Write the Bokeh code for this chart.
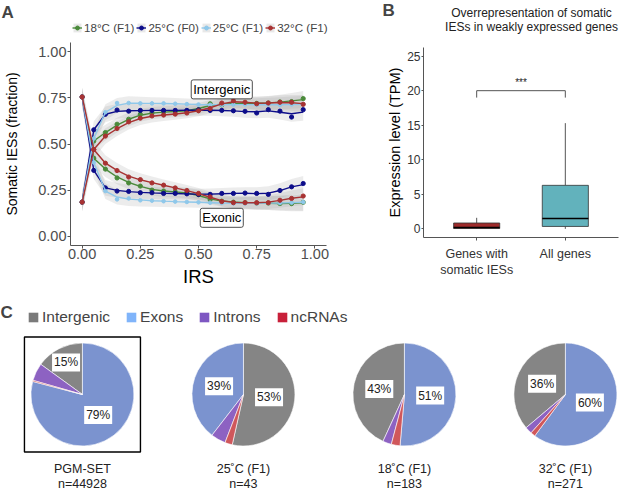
import numpy as np
from bokeh.plotting import figure
from bokeh.layouts import column, row
from bokeh.models import (Legend, LegendItem, Label, FixedTicker, Range1d,
                          NumeralTickFormatter, ColumnDataSource)
from bokeh.embed import file_html
from bokeh.resources import INLINE
from bokeh.core.properties import value

FONT = "Liberation Sans"

# ---------------- Panel A data ----------------
irs = [0.00, 0.05, 0.10, 0.15, 0.20, 0.25, 0.30, 0.35, 0.40, 0.45,
       0.50, 0.55, 0.60, 0.65, 0.70, 0.75, 0.80, 0.85, 0.90, 0.95]
series_names = ["18°C (F1)", "25°C (F0)", "25°C (F1)", "32°C (F1)"]
series_colors = ["#4A8A3A", "#0D0D8A", "#8FC8EA", "#A83232"]

intergenic_18F1 = [0.185, 0.516, 0.562, 0.607, 0.634, 0.661, 0.668, 0.673, 0.676, 0.680,
                   0.686, 0.718, 0.712, 0.720, 0.722, 0.720, 0.722, 0.728, 0.730, 0.746]
intergenic_25F0 = [0.185, 0.577, 0.661, 0.684, 0.678, 0.682, 0.682, 0.682, 0.682, 0.682,
                   0.685, 0.682, 0.682, 0.680, 0.677, 0.668, 0.686, 0.678, 0.646, 0.686]
intergenic_25F1 = [0.185, 0.530, 0.672, 0.722, 0.722, 0.720, 0.720, 0.720, 0.718, 0.716,
                   0.714, 0.712, 0.712, 0.714, 0.714, 0.712, 0.714, 0.712, 0.714, 0.716]
intergenic_32F1 = [0.185, 0.470, 0.543, 0.584, 0.620, 0.640, 0.652, 0.657, 0.662, 0.668,
                   0.680, 0.692, 0.722, 0.734, 0.726, 0.718, 0.722, 0.726, 0.726, 0.715]

exonic_18F1 = [0.755, 0.423, 0.364, 0.316, 0.289, 0.272, 0.250, 0.245, 0.241, 0.236,
               0.225, 0.198, 0.190, 0.185, 0.182, 0.180, 0.180, 0.177, 0.177, 0.184]
exonic_25F0 = [0.755, 0.357, 0.262, 0.245, 0.243, 0.236, 0.236, 0.232, 0.232, 0.230,
               0.227, 0.227, 0.232, 0.232, 0.234, 0.232, 0.227, 0.248, 0.268, 0.286]
exonic_25F1 = [0.755, 0.400, 0.245, 0.200, 0.205, 0.195, 0.193, 0.190, 0.188, 0.186,
               0.184, 0.182, 0.180, 0.178, 0.178, 0.178, 0.180, 0.180, 0.182, 0.185]
exonic_32F1 = [0.755, 0.470, 0.396, 0.356, 0.321, 0.307, 0.289, 0.277, 0.262, 0.248,
               0.232, 0.213, 0.188, 0.182, 0.182, 0.182, 0.182, 0.195, 0.205, 0.218]

intergenic_series = [intergenic_18F1, intergenic_25F0, intergenic_25F1, intergenic_32F1]
exonic_series = [exonic_18F1, exonic_25F0, exonic_25F1, exonic_32F1]

# ---------------- Panel B data ----------------
box_groups = ["Genes with\nsomatic IESs", "All genes"]
box_lower = [0.0, 0.0]
box_q1 = [0.05, 0.35]
box_median = [0.2, 1.5]
box_q3 = [0.85, 6.3]
box_upper = [1.6, 15.3]
box_colors = ["#9E2B2B", "#62B2BC"]
sig_level = 20
sig_text = "***"
title_B = ["Overrepresentation of somatic", "IESs in weakly expressed genes"]

# ---------------- Panel C data ----------------
pie_names = ["PGM-SET", "25˚C (F1)", "18˚C (F1)", "32˚C (F1)"]
region_names = ["Intergenic", "Exons", "Introns", "ncRNAs"]
intergenic_n = [6750, 23, 79, 98]
exons_n = [35530, 17, 94, 163]
introns_n = [2490, 2, 5, 6]
ncrnas_n = [158, 1, 5, 4]
slice_order = [["Exons", "ncRNAs", "Introns", "Intergenic"],
               ["Intergenic", "ncRNAs", "Introns", "Exons"],
               ["Exons", "ncRNAs", "Introns", "Intergenic"],
               ["Exons", "ncRNAs", "Introns", "Intergenic"]]
pie_colors = ["#858585", "#7B93CF", "#8D62C2", "#D0575B"]
legend_colors = ["#7A7A7A", "#80B4FA", "#7E57C2", "#C8203A"]
labelled_regions = ["Intergenic", "Exons"]


def style_axis(ax, tick_size, label_size, tick_color):
    ax.axis_line_color = "#555555"
    ax.axis_line_width = 1
    ax.major_tick_line_color = "#555555"
    ax.minor_tick_line_color = None
    ax.major_tick_out = 3
    ax.major_tick_in = 0
    ax.major_label_text_font = FONT
    ax.major_label_text_font_size = tick_size
    ax.major_label_text_color = tick_color
    ax.axis_label_text_font = FONT
    ax.axis_label_text_font_size = label_size
    ax.axis_label_text_font_style = "normal"
    ax.axis_label_text_color = "black"


def smooth(v):
    v = np.asarray(v, float)
    out = v.copy()
    out[3:-1] = 0.25 * v[2:-2] + 0.5 * v[3:-1] + 0.25 * v[4:]
    out[-1] = (2 * v[-1] + v[-2]) / 3
    return out


TOTAL_W = 620
STRIP_H = 36
x = np.array(irs)
hw = 0.03 + 0.02 * ((x - 0.5) / 0.5) ** 2

# ================= Top strip: panel letters A/B, legend of A, title of B =================
top = figure(width=TOTAL_W, height=STRIP_H, x_range=Range1d(0, 1), y_range=Range1d(0, 1),
             output_backend="svg", toolbar_location=None, min_border=0,
             x_axis_location=None, y_axis_location=None)
top.grid.visible = False
top.outline_line_color = None
items = []
for i, inter in enumerate(intergenic_series):
    col = series_colors[i]
    s = smooth(inter)
    rb = top.varea(x=x, y1=s - hw, y2=s + hw, fill_color="#BDBDBD", fill_alpha=0.35, visible=False)
    rl = top.line(x, s, line_color=col, line_width=1.4, visible=False)
    rp = top.scatter(x, inter, size=4.2, color=col, visible=False)
    items.append(LegendItem(label=series_names[i], renderers=[rb, rl, rp]))
legA = Legend(items=items, orientation="horizontal", location=(72, 1),
              label_text_font=FONT, label_text_font_size="11.6px", glyph_width=10, glyph_height=11,
              label_standoff=2, spacing=2, padding=0, margin=0, border_line_color=None,
              background_fill_alpha=0, label_height=16)
top.add_layout(legA, "center")
top.add_layout(Label(x=1, y=STRIP_H - 2, x_units="screen", y_units="screen", text="A",
                     text_font=FONT, text_font_size="17px", text_font_style="bold",
                     text_baseline="top", text_align="left"))
top.add_layout(Label(x=382, y=STRIP_H, x_units="screen", y_units="screen", text="B",
                     text_font=FONT, text_font_size="17px", text_font_style="bold",
                     text_baseline="top", text_align="left"))
for txt, fy in zip(title_B, (12.3, 26.5)):
    top.add_layout(Label(x=531, y=STRIP_H - fy, x_units="screen", y_units="screen",
                         text=txt, text_font=FONT, text_font_size="12px",
                         text_baseline="middle", text_align="center", text_color="#222222"))

# ================= Panel A =================
A_W, A_H = 344, 264
A_L, A_R, A_T, A_B = 70, 18, 6, 55
pA = figure(width=A_W, height=A_H, x_range=Range1d(-0.05, 1.05), y_range=Range1d(-0.05, 1.05),
            output_backend="svg", toolbar_location=None,
            min_border_left=A_L, min_border_right=A_R, min_border_top=A_T, min_border_bottom=A_B)
pA.outline_line_color = None
pA.grid.visible = False

for inter, exo in zip(intergenic_series, exonic_series):
    for vals in (inter, exo):
        s = smooth(vals)
        pA.varea(x=x, y1=s - hw, y2=s + hw, fill_color="#A8A8A8", fill_alpha=0.22)
for i, (inter, exo) in enumerate(zip(intergenic_series, exonic_series)):
    col = series_colors[i]
    for vals in (inter, exo):
        pA.line(x, smooth(vals), line_color=col, line_width=1.4)
        pA.scatter(x, vals, size=4.2 if i != 2 else 3.6, color=col)

for ax in (pA.xaxis[0], pA.yaxis[0]):
    style_axis(ax, "14.5px", "14px", "#4D4D4D")
pA.xaxis.ticker = FixedTicker(ticks=[0, 0.25, 0.5, 0.75, 1.0])
pA.yaxis.ticker = FixedTicker(ticks=[0, 0.25, 0.5, 0.75, 1.0])
pA.xaxis.formatter = NumeralTickFormatter(format="0.00")
pA.yaxis.formatter = NumeralTickFormatter(format="0.00")
pA.xaxis.axis_label = "IRS"
pA.xaxis.axis_label_text_font_size = "18.5px"
pA.yaxis.axis_label = "Somatic IESs (fraction)"
pA.xaxis.major_label_standoff = 0
pA.yaxis.major_label_standoff = 1
pA.xaxis.axis_label_standoff = 4
pA.yaxis.axis_label_standoff = 15

for txt, yy in (("Intergenic", 0.796), ("Exonic", 0.10)):
    pA.add_layout(Label(x=0.6, y=yy, text=txt, text_align="center", text_baseline="middle",
                        text_font=FONT, text_font_size="13px", text_color="black",
                        background_fill_color="white", border_line_color="#222222",
                        border_line_width=0.8, padding=2, border_radius=2))

# ================= Panel B =================
B_W, B_H = TOTAL_W - A_W, 264
B_L, B_R, B_T, B_B = 79, 2, 11, 63
pB = figure(width=B_W, height=B_H, x_range=Range1d(0.4, 2.6), y_range=Range1d(-1.25, 26.25),
            output_backend="svg", toolbar_location=None,
            min_border_left=B_L, min_border_right=B_R, min_border_top=B_T, min_border_bottom=B_B)
pB.outline_line_color = None
pB.grid.visible = False
xs = np.arange(1, len(box_groups) + 1)
bw = 0.52
pB.segment(x0=xs, y0=box_q3, x1=xs, y1=box_upper, line_color="#555555", line_width=1)
pB.segment(x0=xs, y0=box_q1, x1=xs, y1=box_lower, line_color="#555555", line_width=1)
pB.vbar(x=xs, width=bw, bottom=box_q1, top=box_q3, fill_color=box_colors,
        line_color="#333333", line_width=0.8)
pB.segment(x0=xs - bw / 2, y0=box_median, x1=xs + bw / 2, y1=box_median,
           line_color="black", line_width=1.4)
pB.segment(x0=[xs[0], xs[0], xs[1]], y0=[sig_level] * 3, x1=[xs[1], xs[0], xs[1]],
           y1=[sig_level, sig_level - 1, sig_level - 1], line_color="#555555", line_width=1)
pB.text(x=[xs.mean()], y=[sig_level + 0.4], text=[sig_text], text_align="center",
        text_baseline="bottom", text_font=value(FONT), text_font_size="10px", text_color="#222222")

for ax in (pB.xaxis[0], pB.yaxis[0]):
    style_axis(ax, "12px", "14.5px", "#333333")
pB.xaxis.major_label_text_font_size = "12.5px"
pB.yaxis.ticker = FixedTicker(ticks=[0, 5, 10, 15, 20, 25])
pB.xaxis.ticker = FixedTicker(ticks=list(xs))
pB.xaxis.major_label_overrides = {int(k): g for k, g in zip(xs, box_groups)}
pB.yaxis.major_tick_out = 2
pB.yaxis.major_label_standoff = 1
pB.xaxis.major_label_standoff = 6
pB.yaxis.axis_label = "Expression level (TPM)"
pB.yaxis.axis_label_standoff = 1

# ================= Panel C =================
C_W, C_H = TOTAL_W, 191
pC = figure(width=C_W, height=C_H, x_range=Range1d(-0.509, 3.342), y_range=Range1d(-97, 94),
            output_backend="svg", toolbar_location=None, min_border=0,
            x_axis_location=None, y_axis_location=None)
pC.grid.visible = False
pC.outline_line_color = None

R = 51.5
counts = {"Intergenic": intergenic_n, "Exons": exons_n, "Introns": introns_n, "ncRNAs": ncrnas_n}
px = np.arange(len(pie_names))
wedge_data = {r: dict(x=[], start=[], end=[]) for r in region_names}
lab = dict(x=[], xo=[], yo=[], text=[])
for k in range(len(pie_names)):
    total = sum(counts[r][k] for r in region_names)
    cum = 0.0
    for r in slice_order[k]:
        f = counts[r][k] / total
        a0 = np.pi / 2 - 2 * np.pi * cum
        a1 = np.pi / 2 - 2 * np.pi * (cum + f)
        wedge_data[r]["x"].append(px[k])
        wedge_data[r]["start"].append(a0)
        wedge_data[r]["end"].append(a1)
        if r in labelled_regions:
            mid = (a0 + a1) / 2
            rf = 0.5 if f >= 0.3 else 0.7
            lab["x"].append(px[k])
            lab["xo"].append(R * rf * np.cos(mid))
            lab["yo"].append(-R * rf * np.sin(mid))
            lab["text"].append(f"{int(100 * f)}%")
        cum += f

leg_items = []
for r, c, lc in zip(region_names, pie_colors, legend_colors):
    d = wedge_data[r]
    pC.wedge(x=d["x"], y=0, radius=R, radius_units="screen", start_angle=d["start"],
             end_angle=d["end"], direction="clock", fill_color=c, line_color="white", line_width=0.6)
    rl = pC.wedge(x=d["x"], y=0, radius=R, radius_units="screen", start_angle=d["start"],
                  end_angle=d["end"], direction="clock", fill_color=lc, line_color=None,
                  visible=False)
    leg_items.append(LegendItem(label=r, renderers=[rl]))

src = ColumnDataSource(lab)
pC.text(x="x", y=0, x_offset="xo", y_offset="yo", text="text", source=src,
        text_align="center", text_baseline="middle", text_font=value(FONT),
        text_font_size="12px", text_color="#222222", background_fill_color="white",
        padding=2)

pC.rect(x=[px[0]], y=[0], width=116, height=115, width_units="screen", height_units="screen",
        fill_color=None, line_color="black", line_width=1.4)

captions = [f"{n}\nn={sum(counts[r][k] for r in region_names)}" for k, n in enumerate(pie_names)]
pC.text(x=px, y=0, y_offset=67, text=captions, text_align="center", text_baseline="top",
        text_font=value(FONT), text_font_size="12.5px", text_color="#222222", text_line_height=1.1)

legC = Legend(items=leg_items, orientation="horizontal", location=(27, C_H - 26),
              label_text_font=FONT, label_text_font_size="15.5px", glyph_width=12, glyph_height=12,
              label_standoff=3, spacing=15, padding=0, margin=0, border_line_color=None,
              background_fill_alpha=0)
pC.add_layout(legC, "center")
pC.add_layout(Label(x=0, y=C_H - 2, x_units="screen", y_units="screen", text="C",
                    text_font=FONT, text_font_size="17px", text_font_style="bold",
                    text_baseline="top", text_align="left"))

layout = column(top, row(column(pA), column(pB)), pC)
open("out.html", "w").write(file_html(layout, INLINE))
